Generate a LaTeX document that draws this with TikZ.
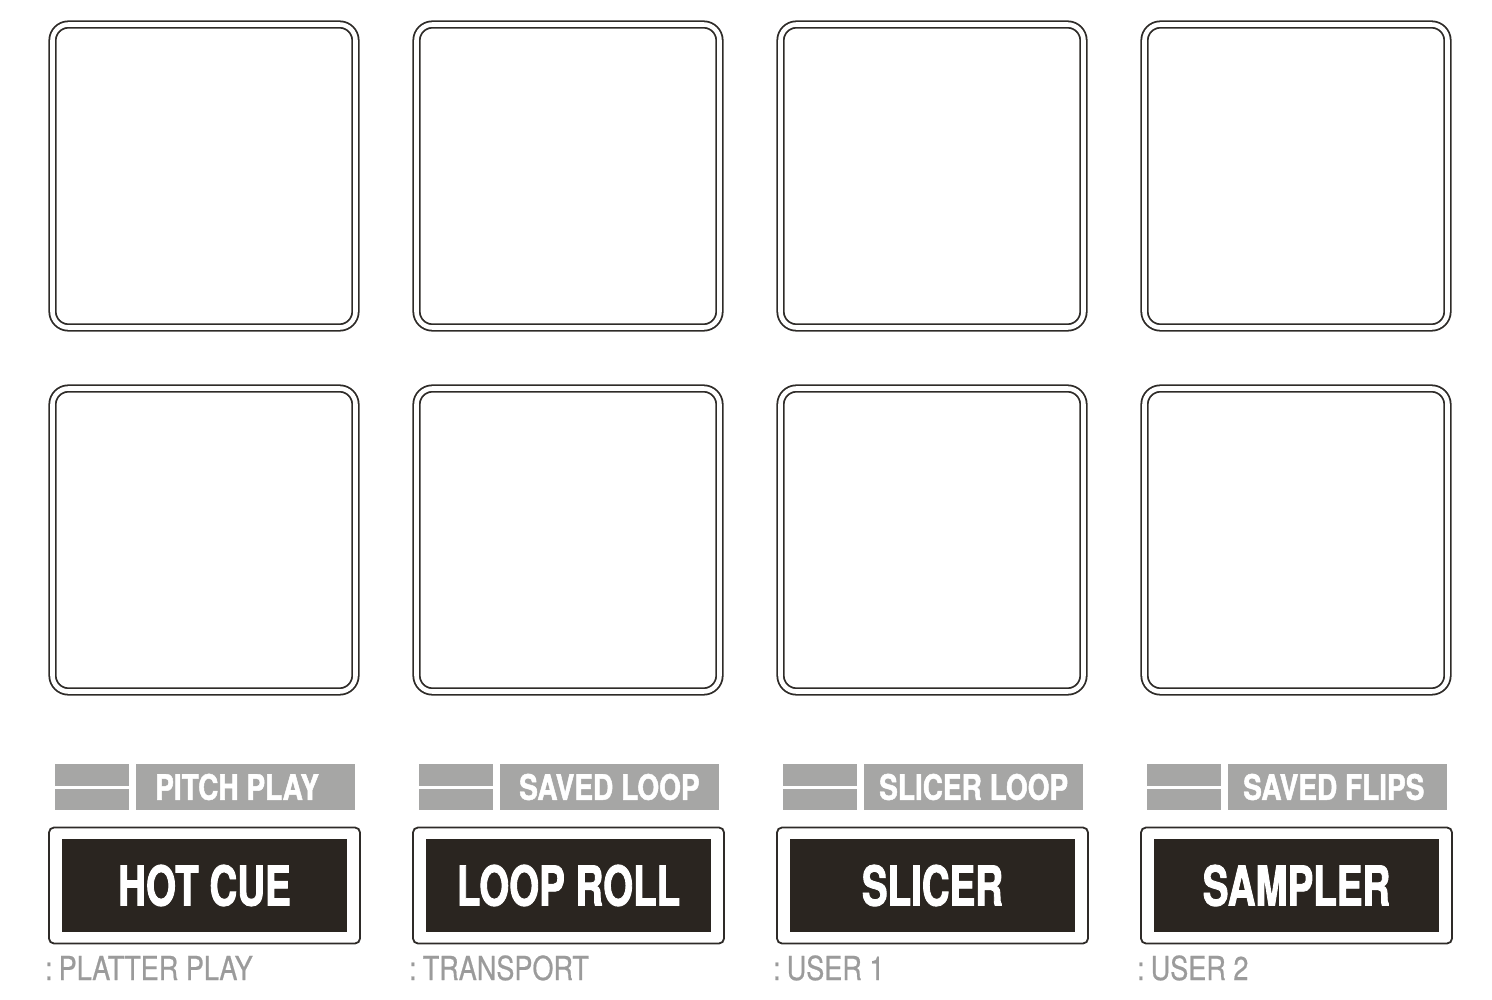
\documentclass[tikz,border=0pt]{standalone}
\usepackage{fontspec}
\newfontfamily\btnfont{TeX Gyre Heros}[FakeStretch=0.7, BoldFeatures={FakeBold=1.6}]
\newfontfamily\tagfont{TeX Gyre Heros}[FakeStretch=0.8, BoldFeatures={FakeBold=1.4}]
\newfontfamily\subfont{TeX Gyre Heros}[FakeStretch=0.82, FakeBold=0.6]
\definecolor{btndark}{HTML}{2A2520}
\definecolor{taggray}{HTML}{A6A6A5}
\definecolor{subgray}{HTML}{9B9B9B}
\definecolor{padline}{HTML}{2E2B28}

\tikzset{
  pad/.style={draw=padline, line width=1.8pt, double=white, double distance=4.6pt,
    rounded corners=16pt, minimum size=303pt, inner sep=0pt},
  btnframe/.style={draw=padline, line width=1.8pt, rounded corners=5pt,
    minimum width=311pt, minimum height=116pt, inner sep=0pt},
  btnface/.style={fill=btndark, text=white, minimum width=285pt, minimum height=93pt,
    inner sep=0pt, font=\btnfont\bfseries\fontsize{55}{60}\selectfont},
  tagbar/.style={fill=taggray, minimum width=74pt, inner sep=0pt},
  tagbox/.style={fill=taggray, minimum width=219pt, minimum height=46pt, inner sep=0pt},
  tagtext/.style={text=white, anchor=west, inner sep=0pt,
    font=\tagfont\bfseries\fontsize{35}{40}\selectfont},
  subtext/.style={text=subgray, anchor=base west, inner sep=0pt,
    font=\subfont\fontsize{33}{38}\selectfont}
}

\begin{document}
\begin{tikzpicture}[x=1pt, y=-1pt]
            \useasboundingbox (0,0) rectangle (1492,1000);
            % pads, top row
            \node[pad] (padA1) at (204,176) {};
            \node[pad] (padA2) at (568,176) {};
            \node[pad] (padA3) at (932,176) {};
            \node[pad] (padA4) at (1296,176) {};
            % pads, bottom row
            \node[pad] (padB1) at (204,540) {};
            \node[pad] (padB2) at (568,540) {};
            \node[pad] (padB3) at (932,540) {};
            \node[pad] (padB4) at (1296,540) {};
            % shift labels
            \node[tagbar, minimum height=22pt] (barA1) at (92,775) {};
            \node[tagbar, minimum height=21pt] (barB1) at (92,799.5) {};
            \node[tagbox] (tag1) at (245.5,787) {};
            \node[tagtext] at (155,787) {PITCH PLAY};
            \node[tagbar, minimum height=22pt] (barA2) at (456,775) {};
            \node[tagbar, minimum height=21pt] (barB2) at (456,799.5) {};
            \node[tagbox] (tag2) at (609.5,787) {};
            \node[tagtext] at (519,787) {SAVED LOOP};
            \node[tagbar, minimum height=22pt] (barA3) at (820,775) {};
            \node[tagbar, minimum height=21pt] (barB3) at (820,799.5) {};
            \node[tagbox] (tag3) at (973.5,787) {};
            \node[tagtext] at (879,787) {SLICER LOOP};
            \node[tagbar, minimum height=22pt] (barA4) at (1184,775) {};
            \node[tagbar, minimum height=21pt] (barB4) at (1184,799.5) {};
            \node[tagbox] (tag4) at (1337.5,787) {};
            \node[tagtext] at (1243,787) {SAVED FLIPS};
            % mode buttons
            \node[btnframe] (frame1) at (204.5,885.5) {};
            \node[btnface] (hotcue) at (204.5,885.5) {HOT CUE};
            \node[btnframe] (frame2) at (568.5,885.5) {};
            \node[btnface] (looproll) at (568.5,885.5) {LOOP ROLL};
            \node[btnframe] (frame3) at (932.5,885.5) {};
            \node[btnface] (slicer) at (932.5,885.5) {SLICER};
            \node[btnframe] (frame4) at (1296.5,885.5) {};
            \node[btnface] (sampler) at (1296.5,885.5) {SAMPLER};
            % secondary functions
            \node[subtext] (sub1) at (45,980) {:\kern6pt PLATTER PLAY};
            \node[subtext] (sub2) at (409,980) {:\kern6pt TRANSPORT};
            \node[subtext] (sub3) at (773,980) {:\kern6pt USER 1};
            \node[subtext] (sub4) at (1137,980) {:\kern6pt USER 2};
        \end{tikzpicture}
\end{document}
